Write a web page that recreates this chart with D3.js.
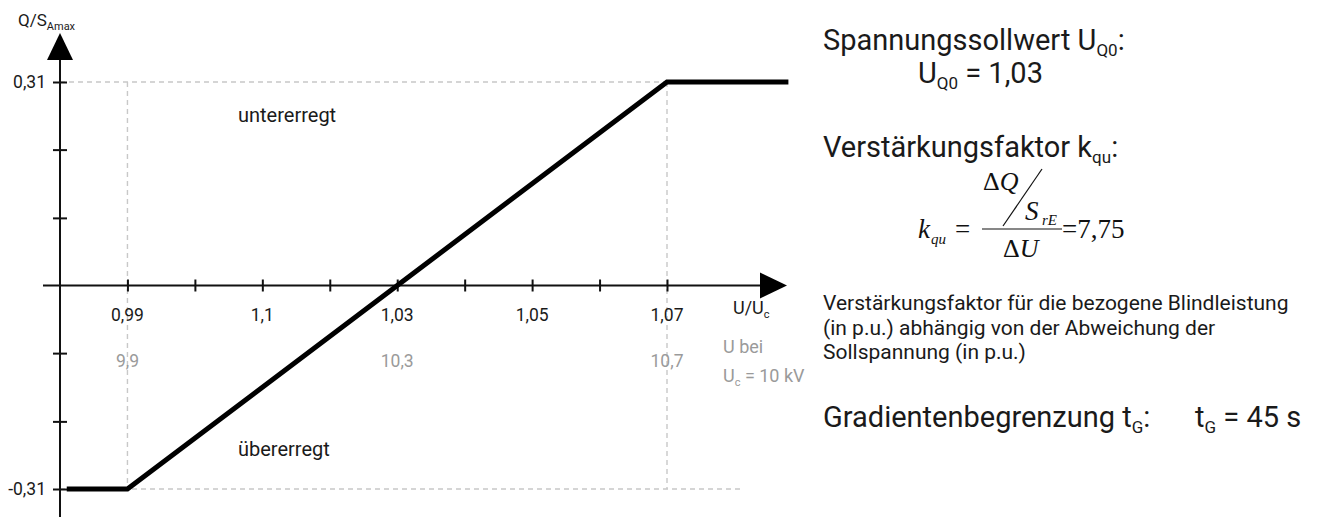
<!DOCTYPE html>
<html>
<head>
<meta charset="utf-8">
<script src="https://cdn.jsdelivr.net/npm/d3@7"></script>
<style>
  html, body { margin: 0; padding: 0; background: #fff; }
  svg { display: block; }
  .sans { font-family: Roboto, "Noto Sans", sans-serif; fill: #1a1a1a; }
  .gray { fill: #9a9a9a; }
  .math { font-family: "Liberation Serif", "Times New Roman", serif; font-style: italic; fill: #111; }
  .up { font-style: normal; }
</style>
</head>
<body>
<svg id="chart" width="1320" height="517"></svg>
<script>
// Q(U) characteristic: reactive power over voltage
const curveU = [0.981, 0.99, 1.07, 1.088];
const curveQ = [-0.31, -0.31, 0.31, 0.31];

const xTickValues = [0.99, 1.00, 1.01, 1.02, 1.03, 1.04, 1.05, 1.06, 1.07];
const xLabelValues = [0.99, 1.01, 1.03, 1.05, 1.07];
const xLabels = ["0,99", "1,1", "1,03", "1,05", "1,07"];
const kvLabelValues = [0.99, 1.03, 1.07];
const kvLabels = ["9,9", "10,3", "10,7"];

const yTickValues = [-0.31, -0.207, -0.103, 0.103, 0.207, 0.31];
const yLabelValues = [-0.31, 0.31];
const yLabels = ["-0,31", "0,31"];

const regionLabels = ["untererregt", "übererregt"];

const svg = d3.select("#chart");
const x = d3.scaleLinear().domain([0.98, 1.07]).range([60, 667]);
const y = d3.scaleLinear().domain([-0.31, 0.31]).range([489, 82]);
const x0 = x(0.98), y0 = y(0);

// helper: text with subscript pieces  [[text, isSub], ...]
function rich(g, px, py, parts, size, subSize, cls, anchor) {
  const t = g.append("text").attr("class", cls).attr("x", px).attr("y", py)
    .attr("font-size", size).attr("text-anchor", anchor || "start");
  let shifted = false;
  parts.forEach(([s, sub]) => {
    const ts = t.append("tspan").text(s);
    if (sub) ts.attr("font-size", subSize);
    if (sub && !shifted) { ts.attr("dy", size * 0.22); shifted = true; }
    else if (!sub && shifted) { ts.attr("dy", -size * 0.22); shifted = false; }
  });
  return t;
}

// dashed guide lines
const guide = svg.append("g").attr("stroke", "#c8c8c8").attr("stroke-width", 1.4)
  .attr("stroke-dasharray", "5,4").attr("fill", "none");
guide.append("line").attr("x1", x0).attr("x2", x(1.07)).attr("y1", y(0.31)).attr("y2", y(0.31));
guide.append("line").attr("x1", x0).attr("x2", x(1.081)).attr("y1", y(-0.31)).attr("y2", y(-0.31));
guide.append("line").attr("x1", x(0.99)).attr("x2", x(0.99)).attr("y1", y(0.31)).attr("y2", y(-0.31));
guide.append("line").attr("x1", x(1.07)).attr("x2", x(1.07)).attr("y1", y(0.31)).attr("y2", y(-0.31));

// x axis with crossing ticks
const xAxis = svg.append("g").attr("transform", `translate(0,${y0})`)
  .call(d3.axisBottom(x).tickValues(xTickValues).tickSize(6).tickSizeOuter(0).tickFormat(""));
xAxis.select(".domain").remove();
xAxis.selectAll(".tick line").attr("y1", -6).attr("y2", 6).attr("stroke", "#111").attr("stroke-width", 2);
svg.append("line").attr("x1", 43).attr("x2", 770).attr("y1", y0).attr("y2", y0)
  .attr("stroke", "#111").attr("stroke-width", 2);
svg.append("path").attr("d", `M787,${y0} L760,${y0 - 13} L760,${y0 + 13} Z`).attr("fill", "#000");

// y axis with crossing ticks
const yAxis = svg.append("g").attr("transform", `translate(${x0},0)`)
  .call(d3.axisLeft(y).tickValues(yTickValues).tickSize(7).tickSizeOuter(0).tickFormat(""));
yAxis.select(".domain").remove();
yAxis.selectAll(".tick line").attr("x1", -7).attr("x2", 7).attr("stroke", "#111").attr("stroke-width", 2);
svg.append("line").attr("x1", x0).attr("x2", x0).attr("y1", 50).attr("y2", 517)
  .attr("stroke", "#111").attr("stroke-width", 2);
svg.append("path").attr("d", `M${x0},33 L${x0 - 13},60 L${x0 + 13},60 Z`).attr("fill", "#000");

// characteristic curve
const pts = curveU.map((u, i) => [u, curveQ[i]]);
svg.append("path").datum(pts)
  .attr("d", d3.line().x(d => x(d[0])).y(d => y(d[1])))
  .attr("fill", "none").attr("stroke", "#000").attr("stroke-width", 5).attr("stroke-linejoin", "miter");

// tick labels
svg.selectAll(".xl").data(xLabelValues).join("text").attr("class", "sans")
  .attr("x", d => x(d)).attr("y", 321).attr("text-anchor", "middle").attr("font-size", 17.5)
  .text((d, i) => xLabels[i]);
svg.selectAll(".kv").data(kvLabelValues).join("text").attr("class", "sans gray")
  .attr("x", d => x(d)).attr("y", 367).attr("text-anchor", "middle").attr("font-size", 17.5)
  .text((d, i) => kvLabels[i]);
svg.selectAll(".yl").data(yLabelValues).join("text").attr("class", "sans")
  .attr("x", 46).attr("y", d => y(d) + 6).attr("text-anchor", "end").attr("font-size", 17.5)
  .text((d, i) => yLabels[i]);

// axis titles
rich(svg, 18, 26, [["Q/S", false], ["Amax", true]], 17, 11, "sans");
rich(svg, 733, 314, [["U/U", false], ["c", true]], 18, 11, "sans");
svg.append("text").attr("class", "sans gray").attr("x", 723).attr("y", 353).attr("font-size", 18).text("U bei");
rich(svg, 723, 382, [["U", false], ["c", true], [" = 10 kV", false]], 18, 11, "sans gray");

// region labels
svg.append("text").attr("class", "sans").attr("x", 238).attr("y", 122).attr("font-size", 20).text(regionLabels[0]);
svg.append("text").attr("class", "sans").attr("x", 238).attr("y", 456).attr("font-size", 20).text(regionLabels[1]);

// parameter panel
const R = 823;
rich(svg, R, 50, [["Spannungssollwert U", false], ["Q0", true], [":", false]], 29, 17, "sans");
rich(svg, 918, 83, [["U", false], ["Q0", true], [" = 1,03", false]], 29, 17, "sans");
rich(svg, R, 157, [["Verstärkungsfaktor k", false], ["qu", true], [":", false]], 29, 17, "sans");

// gain formula
const f = svg.append("g");
f.append("text").attr("class", "math").attr("x", 918).attr("y", 238).attr("font-size", 27).text("k");
f.append("text").attr("class", "math").attr("x", 931).attr("y", 244).attr("font-size", 15).text("qu");
f.append("text").attr("class", "math up").attr("x", 955).attr("y", 238).attr("font-size", 27).text("=");
const dq = f.append("text").attr("class", "math").attr("x", 983).attr("y", 190).attr("font-size", 26);
dq.append("tspan").attr("class", "up").text("Δ"); dq.append("tspan").text("Q");
f.append("line").attr("x1", 1003).attr("y1", 226).attr("x2", 1042).attr("y2", 169).attr("stroke", "#111").attr("stroke-width", 1.2);
f.append("text").attr("class", "math").attr("x", 1025).attr("y", 220).attr("font-size", 27).text("S");
f.append("text").attr("class", "math").attr("x", 1042).attr("y", 225).attr("font-size", 15).text("rE");
f.append("line").attr("x1", 982).attr("y1", 229).attr("x2", 1062).attr("y2", 229).attr("stroke", "#111").attr("stroke-width", 1.2);
const du = f.append("text").attr("class", "math").attr("x", 1003).attr("y", 257).attr("font-size", 26);
du.append("tspan").attr("class", "up").text("Δ"); du.append("tspan").text("U");
f.append("text").attr("class", "math up").attr("x", 1062).attr("y", 238).attr("font-size", 27).text("=7,75");

const para = ["Verstärkungsfaktor für die bezogene Blindleistung",
              "(in p.u.) abhängig von der Abweichung der",
              "Sollspannung (in p.u.)"];
svg.selectAll(".para").data(para).join("text").attr("class", "sans")
  .attr("x", R).attr("y", (d, i) => 310 + i * 24.5).attr("font-size", 21).text(d => d);

rich(svg, R, 427, [["Gradientenbegrenzung t", false], ["G", true], [":", false]], 29, 17, "sans");
rich(svg, 1195, 427, [["t", false], ["G", true], [" = 45 s", false]], 29, 17, "sans");
</script>
</body>
</html>
